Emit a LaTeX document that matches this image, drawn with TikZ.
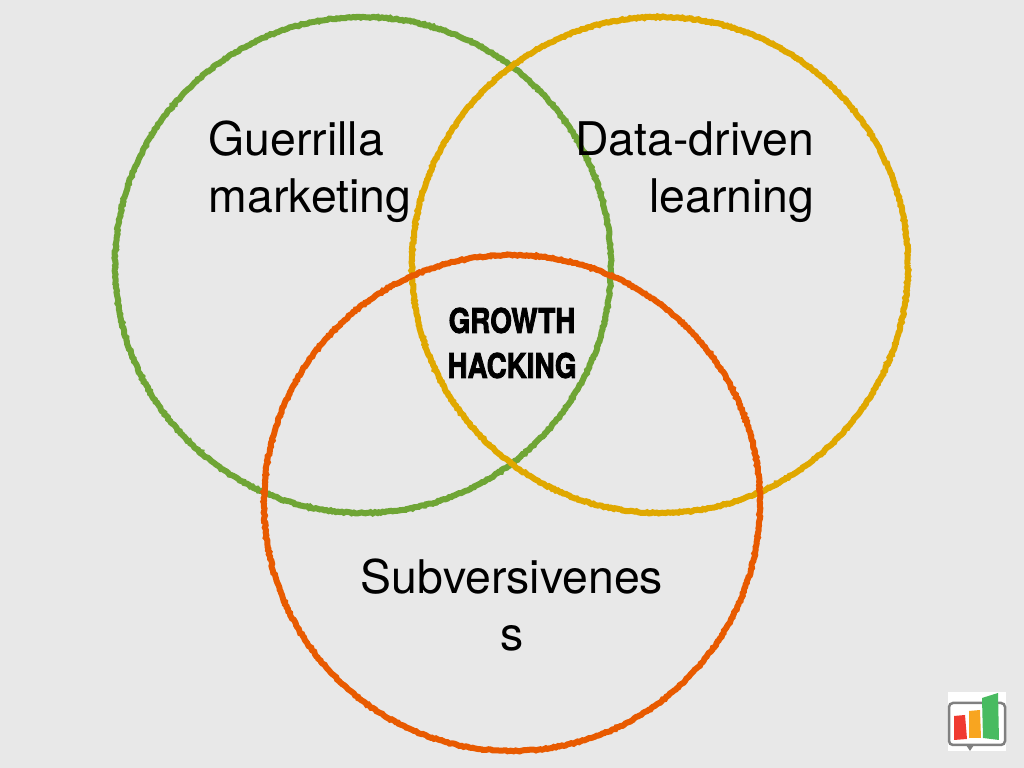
\documentclass[tikz,border=0pt]{standalone}
\usepackage{fontspec}
\setmainfont{TeX Gyre Heros}
\newfontfamily\corefont[FakeBold=2.6]{TeX Gyre Heros}
\usetikzlibrary{decorations.pathmorphing}
\definecolor{slidegrey}{HTML}{E8E8E8}
\definecolor{ringgreen}{HTML}{6FA535}
\definecolor{ringyellow}{HTML}{E0A800}
\definecolor{ringred}{HTML}{E85A00}
\definecolor{barred}{HTML}{F03A30}
\definecolor{barorange}{HTML}{F8A520}
\definecolor{bargreen}{HTML}{48BB60}
\begin{document}
\begin{tikzpicture}
[ring/.style={line width=0.06cm, decorate, decoration={random steps, segment length=0.02cm, amplitude=0.007cm}},
label/.style={font=\fontsize{13.2}{16.2}\selectfont, inner sep=0},
core/.style={font=\corefont\fontsize{9.2}{12.2}\bfseries\selectfont, inner sep=0, align=center, xscale=0.86, yscale=1.05}]
\useasboundingbox (0, 0) rectangle (10.24, 7.68);
\fill [slidegrey] (0, 0) rectangle (10.24, 7.68);
% rings
\draw [ring, ringgreen] (3.63, 5.03) circle (2.48);
\draw [ring, ringyellow] (6.60, 5.03) circle (2.48);
\draw [ring, ringred] (5.12, 2.65) circle (2.48);
% labels
\node (guerrilla) [label, align=left, anchor=west] at (2.08, 5.96) {Guerrilla\\marketing};
\node (data) [label, align=right, anchor=east] at (8.15, 5.96) {Data-driven\\learning};
\node (subversive) [label, align=center] at (5.12, 1.63) {Subversivenes\\s};
\node (growth) [core] at (5.12, 4.25) {GROWTH\\HACKING};
% logo
\fill [white] (9.48, 0.17) rectangle (10.06, 0.76);
\draw [gray, line width=0.025cm, rounded corners=0.04cm] (9.49, 0.23) rectangle (10.05, 0.65);
\fill [gray] (9.66, 0.23) -- (9.74, 0.23) -- (9.70, 0.17) -- cycle;
\fill [barred] (9.54, 0.28) -- (9.67, 0.29) -- (9.65, 0.53) -- (9.54, 0.52) -- cycle;
\fill [barorange] (9.69, 0.30) -- (9.81, 0.30) -- (9.80, 0.58) -- (9.69, 0.57) -- cycle;
\fill [bargreen] (9.83, 0.30) -- (9.99, 0.28) -- (9.98, 0.75) -- (9.82, 0.70) -- cycle;
\end{tikzpicture}
\end{document}
